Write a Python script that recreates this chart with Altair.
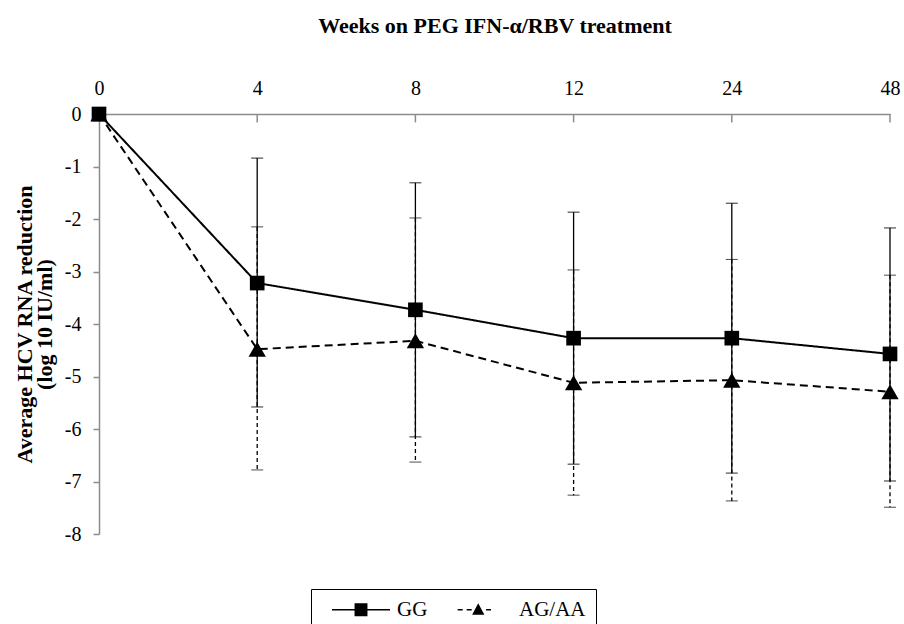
import altair as alt
import pandas as pd

weeks = ["0", "4", "8", "12", "24", "48"]
series_names = ["GG", "AG/AA"]

gg_mean = [0.0, -3.22, -3.73, -4.27, -4.27, -4.57]
gg_hi = [None, -0.84, -1.31, -1.87, -1.70, -2.17]
gg_lo = [None, -5.58, -6.15, -6.67, -6.84, -6.99]

ag_mean = [0.0, -4.48, -4.32, -5.12, -5.07, -5.29]
ag_hi = [None, -2.15, -1.98, -2.97, -2.77, -3.07]
ag_lo = [None, -6.78, -6.63, -7.26, -7.37, -7.49]

rows = []
for name, m, hi, lo in [("GG", gg_mean, gg_hi, gg_lo), ("AG/AA", ag_mean, ag_hi, ag_lo)]:
    for w, mv, h, l in zip(weeks, m, hi, lo):
        rows.append({"series": name, "series_l": name, "week": w, "mean": mv, "hi": h, "lo": l})
df = pd.DataFrame(rows)

FONT = "Liberation Serif"
GRAY = "#8c8c8c"

xenc = alt.X(
    "week:O",
    sort=weeks,
    scale=alt.Scale(type="point", padding=0, domain=weeks),
    axis=alt.Axis(
        orient="top",
        title="Weeks on PEG IFN-\u03b1/RBV treatment",
        titleFont=FONT,
        titleFontSize=22,
        titleFontWeight="bold",
        titlePadding=41,
        titleColor="black",
        labelFont=FONT,
        labelFontSize=20,
        labelColor="black",
        labelAngle=0,
        labelPadding=16,
        ticks=False,
        domainColor=GRAY,
        domainWidth=1.5,
        grid=False,
    ),
)
yscale = alt.Scale(domain=[-8, 0], nice=False, zero=False)
yaxis = alt.Axis(
    values=[0, -1, -2, -3, -4, -5, -6, -7, -8],
    labelExpr="'' + datum.value",
    title=["Average HCV RNA reduction", "(log 10 IU/ml)"],
    titleFont=FONT,
    titleFontSize=22,
    titleFontWeight="bold",
    titleLineHeight=20,
    titlePadding=8,
    titleColor="black",
    labelFont=FONT,
    labelFontSize=20,
    labelColor="black",
    labelPadding=12,
    tickColor=GRAY,
    tickSize=6,
    tickWidth=1.5,
    domainColor=GRAY,
    domainWidth=1.5,
    grid=False,
)

base = alt.Chart(df)

err = base.transform_filter("datum.hi != null")

ag_err_rule = err.transform_filter("datum.series == 'AG/AA'").mark_rule(
    color="black", strokeWidth=1.3, strokeDash=[4, 3]
).encode(x=xenc, y=alt.Y("hi:Q", scale=yscale, axis=yaxis), y2="lo:Q")
ag_cap_hi = err.transform_filter("datum.series == 'AG/AA'").mark_tick(
    orient="horizontal", size=12, thickness=1, color="black", strokeDash=[3, 2]
).encode(x=xenc, y=alt.Y("hi:Q", scale=yscale))
ag_cap_lo = err.transform_filter("datum.series == 'AG/AA'").mark_tick(
    orient="horizontal", size=12, thickness=1, color="black", strokeDash=[3, 2]
).encode(x=xenc, y=alt.Y("lo:Q", scale=yscale))

gg_err_rule = err.transform_filter("datum.series == 'GG'").mark_rule(
    color="black", strokeWidth=1.3
).encode(x=xenc, y=alt.Y("hi:Q", scale=yscale), y2="lo:Q")
gg_cap_hi = err.transform_filter("datum.series == 'GG'").mark_tick(
    orient="horizontal", size=12, thickness=1.2, color="black"
).encode(x=xenc, y=alt.Y("hi:Q", scale=yscale))
gg_cap_lo = err.transform_filter("datum.series == 'GG'").mark_tick(
    orient="horizontal", size=12, thickness=1.2, color="black"
).encode(x=xenc, y=alt.Y("lo:Q", scale=yscale))

lines = base.mark_line(color="black", strokeWidth=2).encode(
    x=xenc,
    y=alt.Y("mean:Q", scale=yscale),
    strokeDash=alt.StrokeDash(
        "series:N",
        scale=alt.Scale(domain=series_names, range=[[1, 0], [8, 5]]),
        legend=None,
    ),
    detail="series:N",
)

points = base.mark_point(filled=True, color="black", opacity=1).encode(
    x=xenc,
    y=alt.Y("mean:Q", scale=yscale),
    shape=alt.Shape(
        "series:N",
        scale=alt.Scale(domain=series_names, range=["square", "triangle-up"]),
        legend=None,
    ),
    size=alt.Size("series:N", scale=alt.Scale(domain=series_names, range=[215, 300]), legend=None),
    order=alt.Order("order_key:Q"),
).transform_calculate(order_key="datum.series == 'GG' ? 1 : 0")

# inward ticks on the top x axis
xticks = alt.Chart(pd.DataFrame({"week": weeks[1:]})).mark_rule(
    color=GRAY, strokeWidth=1.5
).encode(x=xenc, y=alt.datum(0), y2=alt.datum(-0.16))

# legend glyphs: line + marker, drawn as filled custom symbol paths
path_gg = ("M-3.41,-0.09H3.41V0.09H-3.41Z"
           "M-0.76,-0.76H0.76V0.76H-0.76Z")
path_ag = ("M-2.98,-0.09H-2.39V0.09H-2.98Z"
           "M-1.92,-0.09H-1.33V0.09H-1.92Z"
           "M0.35,-0.09H0.94V0.09H0.35Z"
           "M-0.56,-0.76L0.16,0.6L-1.28,0.6Z")

legend_layer = base.transform_filter("false").mark_point(
    filled=True, color="black"
).encode(
    x=xenc,
    y=alt.Y("mean:Q", scale=yscale),
    shape=alt.Shape(
        "series_l:N",
        scale=alt.Scale(domain=series_names, range=[path_gg, path_ag]),
        legend=alt.Legend(
            title=None,
            orient="none",
            legendX=212,
            legendY=475,
            direction="horizontal",
            symbolSize=289,
            symbolStrokeWidth=0,
            symbolFillColor="black",
            symbolOpacity=1,
            symbolOffset=29.5,
            labelFont=FONT,
            labelFontSize=21,
            labelColor="black",
            labelOffset=25.5,
            columnPadding=15,
            padding=10,
            strokeColor="black",
            fillColor="white",
        ),
    ),
)

chart = alt.layer(
    ag_err_rule, ag_cap_hi, ag_cap_lo,
    gg_err_rule, gg_cap_hi, gg_cap_lo,
    lines, points, xticks, legend_layer,
).resolve_scale(shape="independent").properties(
    width=791,
    height=420,
    autosize=alt.AutoSizeParams(type="none"),
    padding={"left": 99, "top": 114, "right": 14, "bottom": 90},
    background="white",
).configure_view(stroke=None)

chart.save("out.html", embed_options={"renderer": "svg", "actions": False})
